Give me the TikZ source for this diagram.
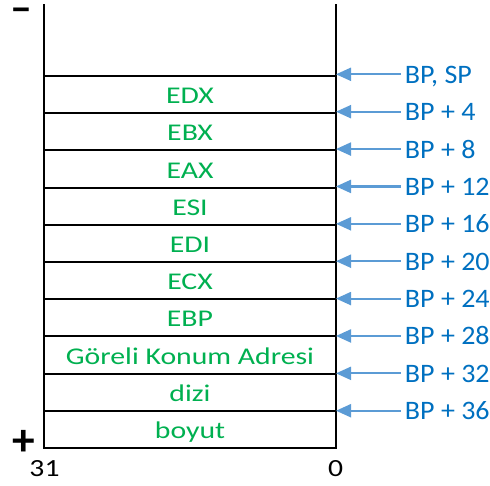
\documentclass[tikz,border=0pt]{standalone}
\usepackage{fontspec}
\setmainfont{Carlito}
\usetikzlibrary{arrows.meta}
\definecolor{cellgreen}{HTML}{00B050}
\definecolor{lblblue}{HTML}{0070C0}
\definecolor{arrblue}{HTML}{5B9BD5}
\begin{document}
\begin{tikzpicture}[x=0.75pt,y=-0.75pt,
  frame/.style={draw=black, line width=1.5pt},
  cell/.style={draw=black, line width=1.5pt, minimum width=219pt, minimum height=27.9pt, inner sep=0pt, outer sep=0pt},
  celltext/.style={text=cellgreen, font=\fontsize{18pt}{22pt}\selectfont, inner sep=0pt, anchor=base},
  lbl/.style={text=lblblue, font=\fontsize{20pt}{24pt}\selectfont, inner sep=0pt, anchor=base west},
  ptr/.style={draw=arrblue, line width=1.6pt, -{Triangle[length=11.25pt,width=9.75pt]}},
  axis/.style={text=black, font=\fontsize{18.5pt}{22pt}\selectfont, inner sep=0pt, anchor=base},
  sign/.style={text=black, inner sep=0pt, anchor=base}]
\useasboundingbox (0,0) rectangle (490,486);
% cells
\foreach \t [count=\i] in {EDX,EBX,EAX,ESI,EDI,ECX,EBP,G\"oreli Konum Adresi,dizi,boyut}{
  \pgfmathsetmacro{\cy}{94.6+37.2*(\i-1)}
  \node[cell] (c\i) at (190,\cy) {};
  \node[celltext] (t\i) at ([yshift=-6.8pt]c\i.center) {\scalebox{1.24}[1]{\t}};
}
\draw[frame] (44,4) -- (c1.north west);
\draw[frame] (336,4) -- (c1.north east);
% pointers
\foreach \l [count=\i] in {{BP, SP},BP + 4,BP + 8,BP + 12,BP + 16,BP + 20,BP + 24,BP + 28,BP + 32,BP + 36}{
  \pgfmathsetmacro{\ay}{74.3+37.38*(\i-1)}
  \coordinate (a\i) at (400.7,\ay);
  \coordinate (p\i) at (336,\ay);
  \draw[ptr] (a\i) -- (p\i);
  \node[lbl] (l\i) at (404.7,\ay+9) {\scalebox{1.05}[1]{\l}};
}
% axis labels
\node[axis] (n31) at (44.5,476.7) {\scalebox{1.2}[1]{31}};
\node[axis] (n0) at (335.7,476.7) {\scalebox{1.2}[1]{0}};
\node[sign, font=\fontsize{30pt}{36pt}\selectfont\bfseries] (minus) at (21,22) {−};
\node[sign, font=\fontsize{34pt}{40pt}\selectfont\bfseries] (plus) at (23.3,455.6) {+};
\end{tikzpicture}
\end{document}
